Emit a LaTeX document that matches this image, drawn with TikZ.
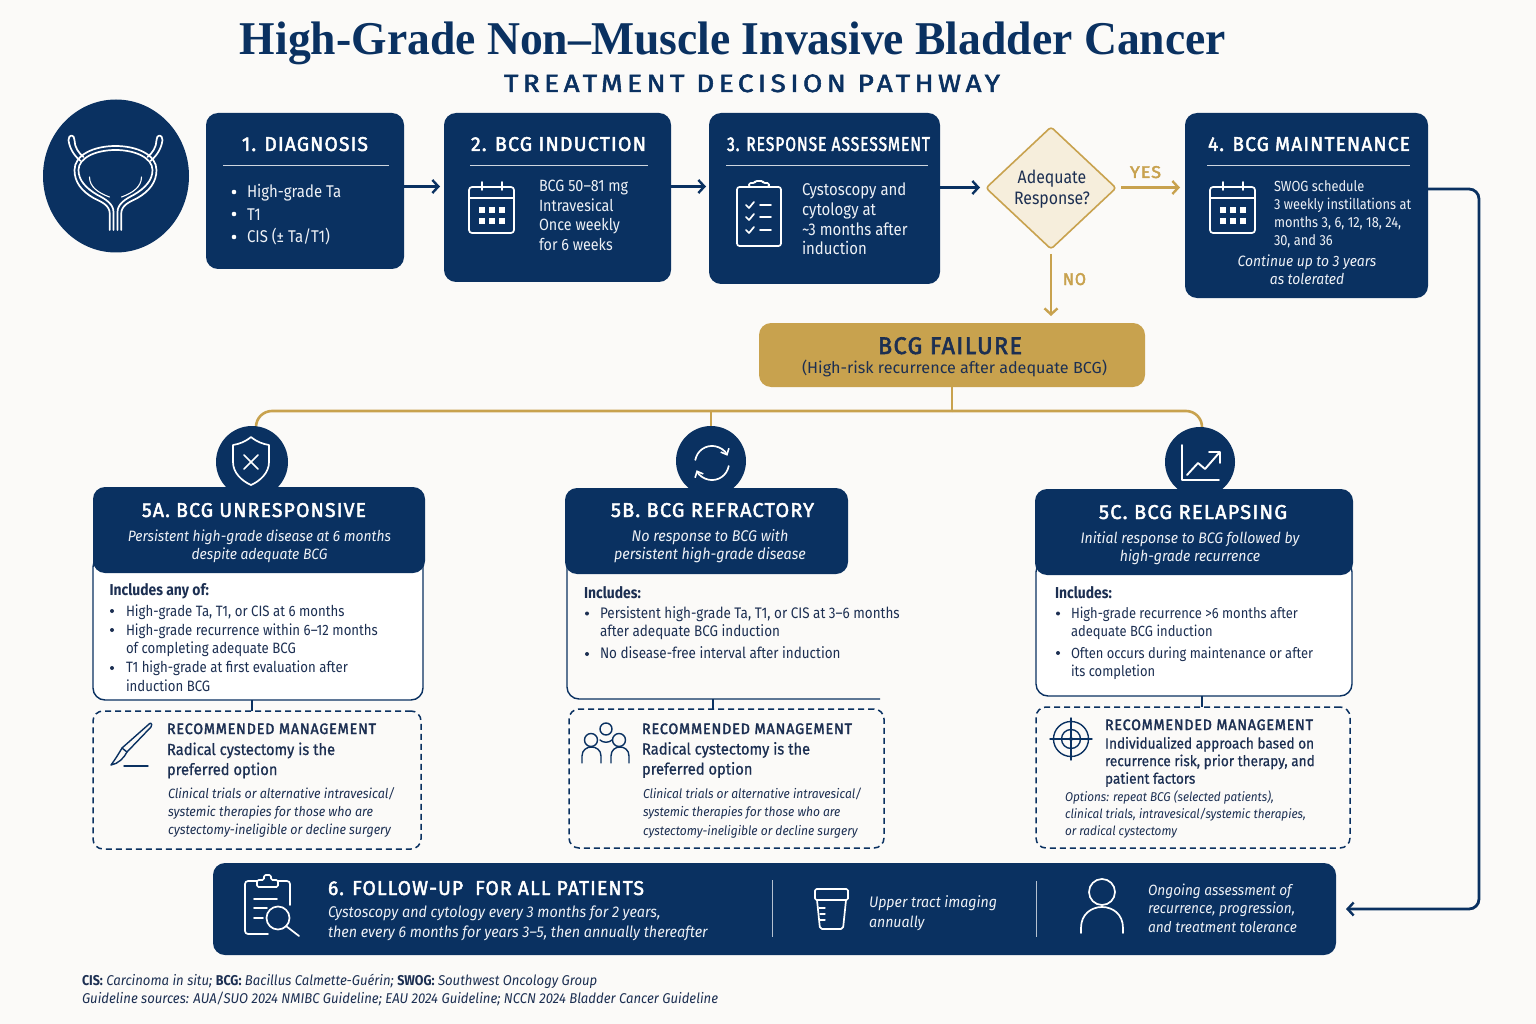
\documentclass[tikz,border=0pt]{standalone}
\usepackage{fontspec}
\usepackage{graphicx}
\usetikzlibrary{arrows.meta,shapes.geometric}
\setmainfont[FakeStretch=0.88,ItalicFeatures={FakeStretch=0.925}]{Fira Sans}
\newfontfamily\hd[LetterSpace=6,FakeBold=2.4]{Fira Sans}
\newfontfamily\subf[LetterSpace=16,FakeBold=2]{Fira Sans}
\newfontfamily\md[FakeBold=0.8,FakeStretch=0.92]{Fira Sans}
\newfontfamily\ttl{Liberation Serif}
\definecolor{navy}{HTML}{0A3161}
\definecolor{gold}{HTML}{C8A24E}
\definecolor{pale}{HTML}{F6EEDC}
\definecolor{bg}{HTML}{FBFAF8}
\definecolor{ink}{HTML}{1C2F52}
\definecolor{soft}{HTML}{EEF1F6}
% box from corner to corner (picture pixels)
\newcommand\bx[6]{\node[#6,minimum width={(#4-#2)*1pt},minimum height={(#5-#3)*1pt}] (#1) at ({(#2+#4)/2},{(#3+#5)/2}) {};}
% text block: name, x, first baseline, style, text
\newcommand\tx[5]{\node[#4,inner sep=0pt,outer sep=0pt] (#1) at (#2,{#3-14}) {\rule{0pt}{14pt}#5};}
% one-line heading fitted to a width
\newcommand\hdg[6]{\node[anchor=base,inner sep=0pt,outer sep=0pt,text=#5] (#1) at (#2,#3) {\resizebox{#4pt}{\height}{#6}};}
\newcommand\fnt[2]{\fontsize{#1}{#2}\selectfont}
\newcommand\calicon[2]{\begin{scope}[shift={(#1,#2)},icow]
 \draw[rounded corners=3] (0,0) rectangle (45,46);
 \draw (0,11) -- (45,11);
 \draw (13,-5) -- (13,3) (33,-5) -- (33,3);
 \foreach \a in {13,23,33} \foreach \b in {23,34}
  \fill[white] ({\a-3},{\b-3}) rectangle ({\a+3},{\b+3});
\end{scope}}
\tikzset{
 navybox/.style={fill=navy,rounded corners=12,inner sep=0pt,outer sep=0pt},
 bodybox/.style={draw=navy,line width=1.4pt,fill=white,rounded corners=12,inner sep=0pt,outer sep=0pt},
 recbox/.style={draw=navy,line width=1.5pt,dash pattern=on 6pt off 4pt,rounded corners=10,inner sep=0pt,outer sep=0pt},
 lft/.style={anchor=north west,align=left},
 ctr/.style={anchor=north,align=center},
 wt/.style={text=soft},
 dk/.style={text=ink},
 navyarrow/.style={draw=navy,line width=2.8pt,-{Straight Barb[length=6pt,width=13pt,line width=2.4pt]}},
 goldarrow/.style={draw=gold,line width=2.8pt,-{Straight Barb[length=6pt,width=13pt,line width=2.4pt]}},
 goldline/.style={draw=gold,line width=2.6pt},
 icow/.style={draw=white,line width=1.7pt,line cap=round,line join=round},
 icon/.style={draw=navy,line width=1.7pt,line cap=round,line join=round},
 rulew/.style={draw=white!80!navy,line width=0.8pt},
 circ/.style={circle,fill=navy,inner sep=0pt,outer sep=0pt},
}
\begin{document}
\begin{tikzpicture}[x=1pt,y=-1pt]
\useasboundingbox (0,0) rectangle (1536,1024);
\fill[bg] (0,0) rectangle (1536,1024);

% Title
\hdg{title}{733}{55}{986}{navy}{\ttl\bfseries\fontsize{47}{50}\selectfont High-Grade Non–Muscle Invasive Bladder Cancer}
\hdg{subtitle}{752}{92}{496}{navy}{\subf\fontsize{25}{28}\selectfont TREATMENT DECISION PATHWAY}

% Bladder
\node[ellipse,fill=navy,inner sep=0pt,outer sep=0pt,minimum width=146pt,minimum height=153pt] (bladder) at (116,176) {};
\foreach \s in {1,-1}{
\begin{scope}[shift={(115.5,0)},xscale=\s,icow]
 \draw (-5.7,230) -- (-5.7,214) .. controls (-5.7,205) and (-14,202) .. (-22,198) .. controls (-34,191) and (-41,182) .. (-41,170) .. controls (-41,155) and (-22,146) .. (0,146);
 \draw (-2,230) -- (-2,212) .. controls (-2,204) and (-10,199) .. (-18,195) .. controls (-30,188) and (-37,180) .. (-37,170) .. controls (-37,158) and (-20,150) .. (0,150);
 \draw (-35,161) .. controls (-42,155) and (-46,148) .. (-47,140) .. controls (-47,134) and (-41,134) .. (-41,140) .. controls (-41,147) and (-37,153) .. (-32,157);
 \draw[line width=1.1pt] (-26,177) .. controls (-26,187) and (-17,193) .. (-6,197);
\end{scope}}

% Top row boxes
\bx{b1}{206}{113}{404}{269}{navybox}
\bx{b2}{444}{113}{671}{282}{navybox}
\bx{b3}{709}{113}{940}{284}{navybox}
\bx{b4}{1185}{113}{1428}{298}{navybox}
\node[diamond,draw=gold,fill=pale,line width=1.6pt,aspect=1.066,minimum width=130pt,minimum height=122pt,inner sep=0pt,outer sep=0pt,rounded corners=3] (dia) at (1051,188) {};
\tx{diat}{1052}{184}{ctr,dk,font=\fnt{18}{20.5}}{Adequate\\Response?}
\bx{fail}{759}{323}{1145}{387}{fill=gold,rounded corners=12,inner sep=0pt,outer sep=0pt}

% Top row texts
\hdg{t1}{305}{151}{126}{white}{\hd\fnt{20}{22}1. DIAGNOSIS}
\draw[rulew] (223,165.5) -- (389,165.5);
\foreach \y in {192,214,237} \fill[white] (234,\y) circle (2.3pt);
\tx{b1t}{247}{198}{lft,wt,font=\fnt{17}{22.4}}{High-grade Ta\\T1\\CIS (± Ta/T1)}

\hdg{t2}{558.5}{151}{175}{white}{\hd\fnt{20}{22}2. BCG INDUCTION}
\draw[rulew] (470,165.5) -- (648,165.5);
\calicon{469}{187}
\tx{b2t}{539}{192}{lft,wt,font=\fnt{16.3}{19.4}}{BCG 50–81 mg\\Intravesical\\Once weekly\\for 6 weeks}

\hdg{t3}{828.5}{151}{203}{white}{\hd\fnt{20}{22}3. RESPONSE ASSESSMENT}
\draw[rulew] (726,165.5) -- (928,165.5);
\begin{scope}[icow]
 \draw[rounded corners=2.5] (737,187) rectangle (781,246);
 \draw[fill=navy,rounded corners=1.5] (749,187) -- (749,183) -- (755,183) -- (755,181) -- (763,181) -- (763,183) -- (769,183) -- (769,187) -- cycle;
 \foreach \y in {205,217,230}{
  \draw (746,\y) -- (749,{\y+3}) -- (754,{\y-3});
  \draw (760,\y) -- (771,\y);}
\end{scope}
\tx{b3t}{802}{196}{lft,wt,font=\fnt{17}{19.6}}{Cystoscopy and\\cytology at\\\textasciitilde 3 months after\\induction}

\hdg{t4}{1309}{151}{202}{white}{\hd\fnt{20}{22}4. BCG MAINTENANCE}
\draw[rulew] (1207,165.5) -- (1410,165.5);
\calicon{1210}{187}
\tx{b4t}{1274}{192}{lft,wt,font=\fnt{14.6}{17.7}}{SWOG schedule\\3 weekly instillations at\\months 3, 6, 12, 18, 24,\\30, and 36}
\tx{b4i}{1307}{266}{ctr,wt,font=\fnt{15}{18}\itshape}{Continue up to 3 years\\as tolerated}

% Failure text
\hdg{failt}{950}{354}{144}{ink}{\hd\fnt{24}{26}BCG FAILURE}
\hdg{fails}{954.5}{373}{305}{ink}{\fnt{16}{18}(High-risk recurrence after adequate BCG)}

% Top connectors
\coordinate (y186) at (0,186.5);
\coordinate (y188) at (0,187.5);
\coordinate (y189) at (0,189);
\coordinate (y909) at (0,909);
\coordinate (turnA) at (1479,189);
\coordinate (turnB) at (1479,909);
\draw[navyarrow,shorten >=4pt] (b1.east |- y186) -- (b2.west |- y186);
\draw[navyarrow,shorten >=3pt] (b2.east |- y186) -- (b3.west |- y186);
\draw[navyarrow,shorten >=6pt] (b3.east |- y188) -- (dia.west |- y188);
\draw[goldarrow,shorten <=5pt,shorten >=5pt] (dia.east |- y188) -- (b4.west |- y188);
\draw[goldarrow,shorten <=5pt,shorten >=7pt] (dia.south) -- (dia.south |- fail.north);
\hdg{yes}{1145.5}{178}{31}{gold}{\hd\fnt{17}{19}YES}
\hdg{no}{1074.5}{285}{23}{gold}{\hd\fnt{17}{19}NO}

% Gold tree
\coordinate (bus) at (952,411);
\coordinate (ta) at (256,435);
\coordinate (tc) at (1202,435);
\draw[goldline] (fail.south) -- (bus);
\draw[goldline,rounded corners=16] (bus) -| (ta);
\draw[goldline,rounded corners=16] (bus) -| (tc);

% Icon discs
\node[circ,minimum size=72pt] (c5a) at (252,462) {};
\node[circ,minimum size=70pt] (c5b) at (711,461) {};
\node[circ,minimum size=70pt] (c5c) at (1200,462) {};
\draw[goldline] (c5b.north |- bus) -- (c5b.north);

% Section A
\bx{a5}{93}{555}{423}{700}{bodybox}
\bx{ah}{93}{487}{425}{573}{navybox}
\bx{ar}{93}{711}{421}{849}{recbox}
\hdg{aht}{254}{517}{224}{white}{\hd\fnt{20}{22}5A. BCG UNRESPONSIVE}
\tx{ahs}{259.5}{541}{ctr,wt,font=\fnt{15}{18}\itshape}{Persistent high-grade disease at 6 months\\despite adequate BCG}
\tx{ai}{109.5}{595}{lft,dk,font=\bfseries\fnt{15.8}{18}}{Includes any of:}
\foreach \y in {611,630,668} \fill[ink] (112,\y) circle (2pt);
\tx{al}{126}{616}{lft,dk,font=\fnt{15}{18.2}}{High-grade Ta, T1, or CIS at 6 months\\[0.8pt]High-grade recurrence within 6–12 months\\of completing adequate BCG\\[1.5pt]T1 high-grade at first evaluation after\\induction BCG}
\tx{art}{167}{734}{lft,dk,font=\fnt{15}{20}}{\resizebox{209pt}{\height}{\hd RECOMMENDED MANAGEMENT}}
\tx{arm}{167}{755}{lft,dk,font=\md\fnt{16}{20}}{Radical cystectomy is the\\preferred option}
\tx{ari}{168}{798}{lft,dk,font=\fnt{13.5}{18.2}\itshape}{Clinical trials or alternative intravesical/\\systemic therapies for those who are\\cystectomy-ineligible or decline surgery}
\coordinate (aj) at (252,700);
\draw[draw=navy,line width=1.4pt] (aj) -- (aj |- ar.north);
% shield
\begin{scope}[icow]
 \draw (251,437) .. controls (257,442) and (263,444) .. (269,445) -- (269,462) .. controls (269,473) and (260,481) .. (251,485) .. controls (242,481) and (233,473) .. (233,462) -- (233,445) .. controls (239,444) and (245,442) .. (251,437) -- cycle;
 \draw (244,455) -- (258,469) (258,455) -- (244,469);
\end{scope}
% scalpel
\begin{scope}[icon,line width=1.4pt]
 \draw (148,725) .. controls (150,722) and (153,723) .. (151,727) -- (127,752) -- (122,748) -- cycle;
 \draw (122,748) .. controls (118,755) and (114,761) .. (111,765) .. controls (118,764) and (124,758) .. (127,752);
 \draw (124,766) -- (148,766);
\end{scope}

% Section B
\coordinate (bbl) at (567,699);
\coordinate (bbt) at (567,560);
\coordinate (bbr) at (880,699);
\draw[draw=navy,line width=1.4pt,rounded corners=12] (bbr) -- (bbl) -- (bbt);
\bx{bh}{565}{488}{848}{574}{navybox}
\bx{br}{569}{709}{884}{848}{recbox}
\hdg{bht}{712.5}{517}{203}{white}{\hd\fnt{20}{22}5B. BCG REFRACTORY}
\tx{bhs}{710}{541}{ctr,wt,font=\fnt{15.5}{18}\itshape}{No response to BCG with\\persistent high-grade disease}
\tx{bi}{584}{598}{lft,dk,font=\bfseries\fnt{15.8}{18}}{Includes:}
\foreach \y in {613.5,654} \fill[ink] (587,\y) circle (2pt);
\tx{bl}{600}{618.5}{lft,dk,font=\fnt{15.3}{18}}{Persistent high-grade Ta, T1, or CIS at 3–6 months\\after adequate BCG induction\\[4pt]No disease-free interval after induction}
\tx{brt}{642}{734}{lft,dk,font=\fnt{15}{20}}{\resizebox{210pt}{\height}{\hd RECOMMENDED MANAGEMENT}}
\tx{brm}{642}{754.5}{lft,dk,font=\md\fnt{16}{20}}{Radical cystectomy is the\\preferred option}
\tx{bri}{643}{798}{lft,dk,font=\fnt{13}{18.5}\itshape}{Clinical trials or alternative intravesical/\\systemic therapies for those who are\\cystectomy-ineligible or decline surgery}
\coordinate (bj) at (713,699);
\draw[draw=navy,line width=1.4pt] (bj) -- (bj |- br.north);
% refresh
\begin{scope}[icow]
 \draw[-{Straight Barb[length=5pt,width=9pt,line width=1.6pt]}] (695.3,460) arc[start angle=170,end angle=25,radius=17pt];
 \draw[-{Straight Barb[length=5pt,width=9pt,line width=1.6pt]}] (728.7,466) arc[start angle=-10,end angle=-155,radius=17pt];
\end{scope}
% people
\begin{scope}[icon,line width=1.4pt]
 \draw (606,729) circle (6pt);
 \draw (591,740) circle (6.5pt);
 \draw (619,740) circle (6.5pt);
 \draw (600,740) .. controls (603,743) and (609,743) .. (612,740);
 \draw (582,763) -- (582,756) .. controls (582,744) and (601,744) .. (601,756) -- (601,763);
 \draw (611,763) -- (611,756) .. controls (611,744) and (629,744) .. (629,756) -- (629,763);
\end{scope}

% Section C
\bx{c5}{1036}{560}{1352}{696}{bodybox}
\bx{ch}{1035}{489}{1353}{575}{navybox}
\bx{cr}{1036}{707}{1350}{848}{recbox}
\hdg{cht}{1193}{519}{188}{white}{\hd\fnt{20}{22}5C. BCG RELAPSING}
\tx{chs}{1190}{543}{ctr,wt,font=\fnt{15.2}{18.8}\itshape}{Initial response to BCG followed by\\high-grade recurrence}
\tx{ci}{1055}{598}{lft,dk,font=\bfseries\fnt{15.8}{18}}{Includes:}
\foreach \y in {613.5,653} \fill[ink] (1058,\y) circle (2pt);
\tx{cl}{1071}{618.5}{lft,dk,font=\fnt{14.7}{18}}{High-grade recurrence >6 months after\\adequate BCG induction\\[4pt]Often occurs during maintenance or after\\its completion}
\tx{crt}{1105}{730}{lft,dk,font=\fnt{15}{18}}{\resizebox{208pt}{\height}{\hd RECOMMENDED MANAGEMENT}}
\tx{crm}{1105}{748.5}{lft,dk,font=\md\fnt{14.8}{17.6}}{Individualized approach based on\\recurrence risk, prior therapy, and\\patient factors}
\tx{cri}{1065}{801.5}{lft,dk,font=\fnt{12.7}{17.2}\itshape}{Options: repeat BCG (selected patients),\\clinical trials, intravesical/systemic therapies,\\or radical cystectomy}
\coordinate (cj) at (1202,696);
\draw[draw=navy,line width=1.4pt] (cj) -- (cj |- cr.north);
% chart
\begin{scope}[icow]
 \draw (1182,445) -- (1182,480) -- (1219,480);
 \draw[line width=1.9pt] (1187,475) -- (1198,463) -- (1205,469) -- (1219,453);
 \draw (1209,452) -- (1220,452) -- (1220,463);
\end{scope}
% target
\begin{scope}[icon,line width=1.4pt]
 \draw (1071,739) circle (17.5pt);
 \draw (1071,739) circle (9.5pt);
 \draw (1050,739) -- (1092,739) (1071,718) -- (1071,760);
 \fill[navy] (1071,739) circle (2pt);
\end{scope}

% Follow-up band
\bx{f6}{213}{863}{1336}{955}{navybox}
\draw[navyarrow,rounded corners=10,shorten >=10pt] (b4.east |- y189) -- (turnA) -- (turnB) -- (f6.east |- y909);
\hdg{ft}{486}{895}{316}{white}{\hd\fnt{20}{22}6. FOLLOW-UP\hspace{6pt} FOR ALL PATIENTS}
\tx{fs}{328}{917}{lft,wt,font=\fnt{15.5}{20}\itshape}{Cystoscopy and cytology every 3 months for 2 years,\\then every 6 months for years 3–5, then annually thereafter}
\draw[draw=white!70!navy,line width=.9pt] (772,880) -- (772,937);
\draw[draw=white!70!navy,line width=.9pt] (1036,881) -- (1036,937);
\tx{fu}{869}{907}{lft,wt,font=\fnt{15.3}{20}\itshape}{Upper tract imaging\\annually}
\tx{fo}{1148}{895}{lft,wt,font=\fnt{14.8}{18.5}\itshape}{Ongoing assessment of\\recurrence, progression,\\and treatment tolerance}
% clipboard + lens
\begin{scope}[icow]
 \draw[rounded corners=3] (290,905) -- (290,881) -- (245,881) -- (245,934) -- (268,934);
 \draw[fill=navy,rounded corners=1.5] (257,887) -- (257,880) -- (264,880) -- (264,875) -- (271,875) -- (271,880) -- (278,880) -- (278,887) -- cycle;
 \draw (254,899) -- (277,899) (254,908) -- (267,908) (254,918) -- (263,918);
 \draw[fill=navy] (278,918) circle (11.5pt);
 \draw (286,926) -- (299,936);
\end{scope}
% cup
\begin{scope}[icow]
 \draw[rounded corners=1.5] (815,889) rectangle (848,900);
 \draw[rounded corners=2] (817,900) -- (820,929) -- (843,929) -- (846,900);
 \draw[line width=1.3pt] (819,908) -- (825,908) (820,914) -- (825,914) (820,920) -- (825,920);
\end{scope}
% person
\begin{scope}[icow]
 \draw (1102,892) circle (13pt);
 \draw (1081,933) -- (1081,928) .. controls (1081,900) and (1123,900) .. (1123,928) -- (1123,933);
\end{scope}

% Footer
\tx{foot}{82}{985}{lft,dk,font=\fnt{14.2}{18}\itshape}{\textbf{\upshape CIS:} Carcinoma in situ; \textbf{\upshape BCG:} Bacillus Calmette-Guérin; \textbf{\upshape SWOG:} Southwest Oncology Group\\Guideline sources: AUA/SUO 2024 NMIBC Guideline; EAU 2024 Guideline; NCCN 2024 Bladder Cancer Guideline}
\end{tikzpicture}
\end{document}
